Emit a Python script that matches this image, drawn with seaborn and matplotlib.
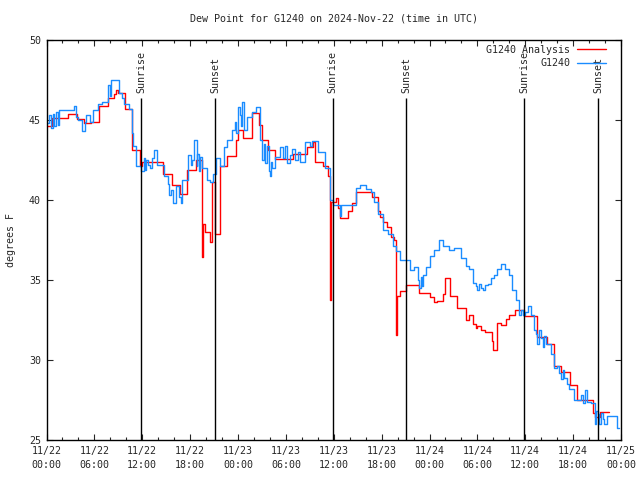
import matplotlib
matplotlib.use("Agg")
import matplotlib.pyplot as plt
import matplotlib.dates as mdates
import numpy as np
import pandas as pd
import seaborn as sns

# hours since 2024-11-22 00:00 UTC, dew point (F)
ANALYSIS_HOURS = [0.0, 0.67, 2.67, 3.8, 4.67, 5.6, 6.6, 7.67, 8.4, 8.7, 9.0, 9.83,
                  10.67, 11.7, 12.0, 14.6, 15.7, 16.7, 17.6, 18.75, 19.46, 19.55,
                  19.67, 19.9, 20.5, 20.7, 21.16, 21.75, 22.67, 23.7, 24.0, 24.67,
                  25.7, 26.6, 26.96, 27.8, 28.6, 30.9, 32.6, 33.4, 33.7, 34.67,
                  35.3, 35.5, 35.7, 36.25, 36.5, 36.75, 37.8, 38.3, 38.75, 40.8,
                  41.5, 41.75, 42.2, 42.67, 43.2, 43.5, 43.75, 43.9, 44.25, 45.1,
                  46.67, 48.0, 48.6, 48.9, 49.67, 49.9, 50.6, 51.5, 52.6, 52.9,
                  53.5, 53.8, 54.0, 54.5, 54.9, 55.8, 56.0, 56.5, 56.9, 57.6, 58.0,
                  58.7, 59.9, 61.5, 62.7, 63.6, 64.5, 65.6, 66.5, 68.5, 68.7, 69.4,
                  70.5]
ANALYSIS_VALUES = [44.6, 45.1, 45.35, 45.05, 44.8, 44.85, 45.9, 46.35, 46.6, 46.85,
                   46.7, 45.7, 43.1, 42.15, 42.4, 41.65, 40.95, 40.4, 41.9, 42.5,
                   39.5, 36.45, 38.5, 38.0, 37.4, 41.1, 37.9, 42.1, 42.75, 43.75,
                   44.4, 43.9, 45.45, 44.7, 43.75, 43.1, 42.56, 42.9, 43.3, 43.65,
                   42.4, 42.1, 41.5, 33.75, 39.9, 40.1, 39.5, 38.9, 39.3, 39.8,
                   40.5, 40.2, 39.3, 38.95, 38.6, 38.3, 37.7, 37.5, 31.56, 34.0,
                   34.3, 34.7, 34.2, 33.95, 33.6, 33.7, 34.1, 35.1, 34.0, 33.25,
                   32.5, 32.8, 32.25, 32.0, 32.1, 31.85, 31.77, 31.2, 30.6, 32.3,
                   32.2, 32.54, 32.8, 33.1, 32.77, 31.45, 31.0, 29.6, 29.23, 28.44,
                   27.5, 26.67, 26.46, 26.73, 26.73]

OBS_HOURS = [0.0, 0.08, 0.375, 0.58, 0.8, 1.0, 1.2, 1.4, 1.6, 3.5, 3.7, 3.9, 4.5,
             4.8, 5.0, 5.4, 5.8, 6.4, 7.0, 7.7, 7.9, 8.1, 9.1, 9.4, 9.75, 10.4,
             10.67, 10.9, 11.2, 11.8, 12.25, 12.4, 12.5, 12.7, 13.0, 13.2, 13.5,
             13.9, 14.75, 15.2, 15.4, 15.6, 15.8, 16.2, 16.6, 16.8, 17.0, 17.7,
             18.1, 18.2, 18.5, 18.8, 18.9, 19.1, 19.3, 19.5, 20.1, 20.5, 20.9,
             21.3, 21.75, 22.2, 22.6, 23.2, 23.6, 23.8, 24.0, 24.2, 24.35, 24.5,
             24.7, 25.1, 25.7, 26.3, 26.75, 27.0, 27.2, 27.4, 27.6, 27.9, 28.0,
             28.1, 28.2, 28.6, 29.25, 29.6, 29.9, 30.2, 30.5, 30.8, 31.2, 31.5,
             31.75, 32.4, 33.0, 33.3, 34.0, 34.9, 35.5, 35.9, 36.75, 36.96, 38.8,
             39.25, 40.1, 40.7, 41.1, 41.5, 42.2, 42.8, 43.4, 43.8, 44.25, 45.5,
             46.1, 46.5, 46.7, 46.9, 47.0, 47.2, 47.6, 48.0, 48.6, 49.25, 49.7,
             50.5, 51.1, 52.0, 52.6, 53.0, 53.4, 53.8, 54.0, 54.2, 54.5, 54.7,
             55.0, 55.3, 55.7, 56.1, 56.5, 57.0, 57.4, 58.0, 58.4, 58.8, 59.25,
             59.5, 59.7, 60.0, 60.3, 60.7, 61.1, 61.3, 61.5, 61.7, 62.0, 62.2,
             62.4, 62.6, 63.2, 63.6, 64.0, 64.25, 64.5, 64.7, 64.9, 65.2, 65.5,
             66.1, 66.96, 67.3, 67.5, 67.8, 68.2, 68.7, 68.9, 69.1, 69.3, 69.5,
             69.7, 69.9, 70.3, 71.5, 71.7]
OBS_VALUES = [44.8, 44.8, 45.3, 44.5, 45.4, 44.6, 45.5, 44.7, 45.6, 45.9, 45.2,
              45.0, 44.3, 44.9, 45.3, 44.85, 45.6, 46.0, 46.1, 47.2, 46.5, 47.5,
              46.7, 46.4, 46.0, 45.7, 44.2, 43.4, 42.1, 41.8, 42.6, 41.9, 42.5,
              42.2, 42.0, 42.6, 43.1, 42.2, 41.5, 41.0, 40.3, 40.6, 39.8, 40.9,
              40.2, 39.8, 41.25, 42.8, 42.2, 42.5, 43.75, 42.1, 42.9, 41.8, 42.7,
              42.0, 41.25, 41.1, 41.6, 42.6, 42.1, 43.3, 43.75, 44.4, 44.9, 44.2,
              45.8, 45.3, 44.6, 46.1, 44.4, 45.2, 45.5, 45.8, 43.75, 42.5, 43.5,
              42.3, 43.4, 41.8, 41.5, 42.4, 42.0, 42.7, 43.3, 42.6, 43.4, 42.3,
              42.8, 43.2, 42.5, 43.0, 42.4, 43.65, 43.4, 43.7, 43.0, 42.0, 40.0,
              39.7, 39.0, 39.7, 40.73, 40.94, 40.7, 40.5, 39.9, 39.1, 38.1, 37.9,
              37.1, 36.8, 36.25, 35.6, 35.8, 35.0, 34.5, 35.2, 34.6, 35.3, 35.8,
              36.5, 36.9, 37.5, 37.1, 36.9, 37.0, 36.4, 35.9, 35.7, 34.8, 34.6,
              34.4, 34.75, 34.5, 34.4, 34.7, 34.75, 35.1, 35.3, 35.7, 35.98, 35.7,
              35.3, 34.4, 33.75, 32.8, 33.1, 32.8, 33.0, 33.4, 32.8, 31.9, 31.6,
              31.0, 31.9, 31.4, 30.8, 31.5, 31.0, 30.4, 29.5, 29.6, 29.2, 28.8,
              29.4, 28.9, 28.5, 28.2, 27.5, 27.8, 27.3, 28.1, 27.4, 27.3, 26.0,
              26.8, 26.6, 26.0, 26.7, 26.3, 26.0, 26.5, 25.75, 25.75]

SUN_EVENTS = ["Sunrise", "Sunset", "Sunrise", "Sunset", "Sunrise", "Sunset"]
SUN_TIMES = ["2024-11-22 11:53", "2024-11-22 21:08", "2024-11-23 11:51",
             "2024-11-23 21:06", "2024-11-24 11:52", "2024-11-24 21:08"]

START = pd.Timestamp("2024-11-22 00:00")
END = pd.Timestamp("2024-11-25 00:00")
RED = "#ff0000"
BLUE = "#1a8cff"
FS = 7.2

sns.set_style("ticks")
plt.rcParams["font.family"] = ["DejaVu Sans Mono"]
plt.rcParams["font.size"] = FS

ana = pd.DataFrame({"time": START + pd.to_timedelta(ANALYSIS_HOURS, unit="h"),
                    "dewpt": ANALYSIS_VALUES})
obs = pd.DataFrame({"time": START + pd.to_timedelta(OBS_HOURS, unit="h"),
                    "dewpt": OBS_VALUES})

fig = plt.figure(figsize=(6.4, 4.8), dpi=100)
ax = fig.add_axes([46.5 / 640, 1 - 440 / 480, (621 - 46.5) / 640, 400 / 480])

sns.lineplot(data=ana, x="time", y="dewpt", ax=ax, color=RED, lw=1.0,
             drawstyle="steps-post", estimator=None, label="G1240 Analysis")
sns.lineplot(data=obs, x="time", y="dewpt", ax=ax, color=BLUE, lw=1.0,
             drawstyle="steps-post", estimator=None, label="G1240")

for ev, t in zip(SUN_EVENTS, SUN_TIMES):
    t = pd.Timestamp(t)
    ax.vlines(t, 25, 46.4, color="black", lw=1.0, zorder=3)
    ax.text(t, 46.7, ev, rotation=90, ha="center", va="bottom", fontsize=FS)

ax.set_xlim(START, END)
ax.set_ylim(25, 50)
ax.set_yticks([25, 30, 35, 40, 45, 50])
ax.xaxis.set_major_locator(mdates.HourLocator(byhour=[0, 6, 12, 18]))
ax.xaxis.set_minor_locator(mdates.HourLocator(interval=2))
ax.xaxis.set_major_formatter(mdates.DateFormatter("%m/%d\n%H:%M"))
ax.tick_params(which="major", direction="in", length=4.5, width=0.8,
               top=True, right=True, labelsize=FS, pad=4)
ax.tick_params(which="minor", direction="in", length=2.5, width=0.8,
               top=True, right=False)
ax.tick_params(axis="y", which="minor", left=False, right=False)
for s in ax.spines.values():
    s.set_linewidth(1.0)
    s.set_color("black")

ax.set_xlabel("")
ax.set_ylabel("degrees F", fontsize=FS, labelpad=9)
ax.set_title("Dew Point for G1240 on 2024-Nov-22 (time in UTC)", fontsize=FS, pad=13)

ax.legend(loc="upper right", bbox_to_anchor=(0.985, 1.003), frameon=False,
          markerfirst=False, handlelength=2.9, handletextpad=0.7,
          labelspacing=0.35, borderaxespad=0.2, fontsize=FS)

fig.canvas.draw()
for lbl in ax.get_xticklabels():
    lbl.set_linespacing(1.5)

fig.savefig("out.png", dpi=100)
